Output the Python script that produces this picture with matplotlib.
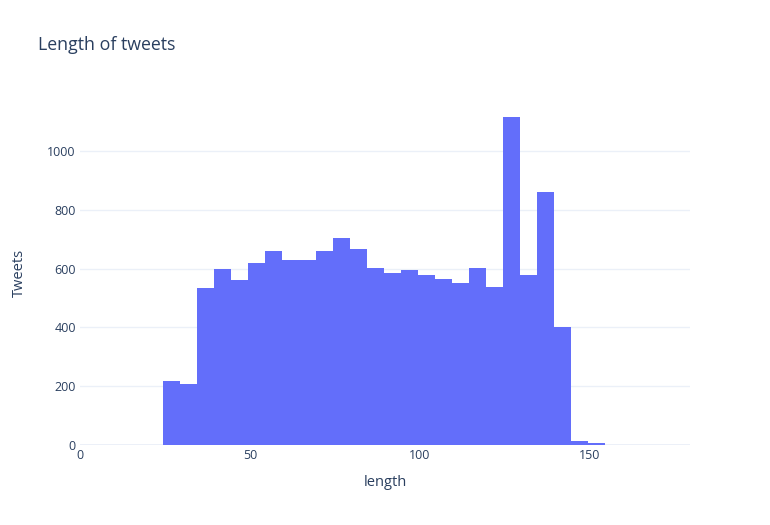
import matplotlib
matplotlib.use("Agg")
import matplotlib.pyplot as plt

# histogram of tweet lengths, bins of 5 characters
bin_starts = [24.5, 29.5, 34.5, 39.5, 44.5, 49.5, 54.5, 59.5, 64.5, 69.5,
              74.5, 79.5, 84.5, 89.5, 94.5, 99.5, 104.5, 109.5, 114.5, 119.5,
              124.5, 129.5, 134.5, 139.5, 144.5, 149.5]
counts = [217, 206, 533, 598, 561, 618, 659, 628, 628, 659, 704, 666, 601,
          584, 594, 580, 564, 551, 601, 537, 1115, 578, 860, 401, 13, 6]
bin_width = 5

x_ticks = [0, 50, 100, 150]
y_ticks = [0, 200, 400, 600, 800, 1000]

text_color = "#2a3f5f"
grid_color = "#EBF0F8"
bar_color = "#636efa"

plt.rcParams["font.family"] = ["Open Sans", "DejaVu Sans"]

fig = plt.figure(figsize=(7.7, 5.25), dpi=100)
ax = fig.add_axes([80 / 770, 80 / 525, 610 / 770, 345 / 525])

ax.bar(bin_starts, counts, width=bin_width, align="edge", color=bar_color,
       linewidth=0, zorder=3)

ax.set_xlim(0, 179.6)
ax.set_ylim(0, 1174)
ax.set_xticks(x_ticks)
ax.set_yticks(y_ticks)
ax.yaxis.grid(True, color=grid_color, linewidth=1, zorder=0)
ax.axhline(0, color=grid_color, linewidth=2, zorder=1)

for s in ax.spines.values():
    s.set_visible(False)
ax.tick_params(axis="both", length=0, labelsize=9, colors=text_color)
ax.tick_params(axis="x", pad=3)
ax.tick_params(axis="y", pad=3)

ax.set_xlabel("length", fontsize=10.5, color=text_color, labelpad=9)
fig.text(19.5 / 770, 1 - 273 / 525, "Tweets", fontsize=10.5, color=text_color,
         rotation=90, va="center", ha="center")

fig.text(38 / 770, 1 - 45 / 525, "Length of tweets", fontsize=12.8,
         color=text_color, va="center", ha="left")

fig.savefig("out.png", dpi=100)
